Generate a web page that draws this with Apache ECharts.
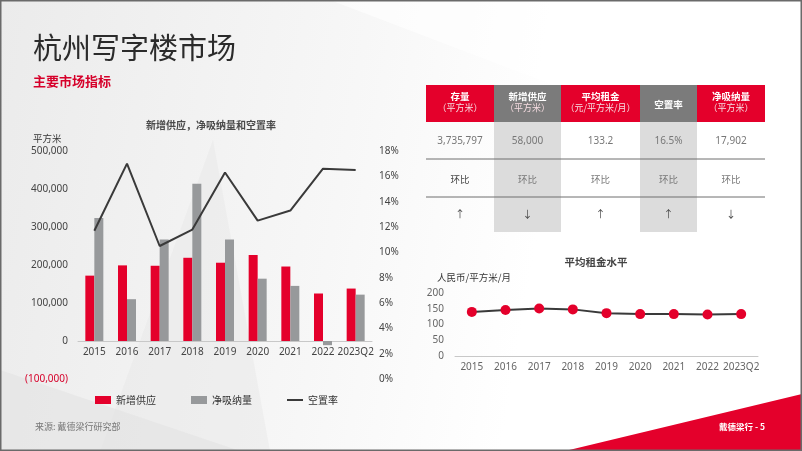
<!DOCTYPE html>
<html>
<head>
<meta charset="utf-8">
<script src="https://cdn.jsdelivr.net/npm/echarts@6/dist/echarts.min.js"></script>
<style>
  html, body { margin: 0; padding: 0; background: #fff; }
  #main { width: 802px; height: 451px; }
</style>
</head>
<body>
<div id="main"></div>
<script>
// 年份
const years = ['2015', '2016', '2017', '2018', '2019', '2020', '2021', '2022', '2023Q2']
// 平方米
const newSupply = [172000, 199000, 198000, 219000, 206000, 226000, 196000, 125000, 138000]
const netAbsorption = [324000, 110000, 267000, 414000, 267000, 164000, 145000, -11000, 122000]
// 空置率 %
const vacancyRate = [11.7, 17.0, 10.5, 11.8, 16.3, 12.5, 13.3, 16.6, 16.5]
// 平均租金 人民币/平方米/月
const rent = [140, 146, 151, 148, 136, 133, 133, 132, 133]

// 主要市场指标表
const tableHeaders = ['存量', '新增供应', '平均租金', '空置率', '净吸纳量']
const tableUnits = ['（平方米）', '（平方米）', '（元/平方米/月）', '', '（平方米）']
const tableValues = ['3,735,797', '58,000', '133.2', '16.5%', '17,902']
const tableCompare = ['环比', '环比', '环比', '环比', '环比']
const tableArrows = ['↑', '↓', '↑', '↑', '↓']

const RED = '#e4002b'
const GRAY_BAR = '#97999b'
const LINE = '#3a3a3a'
const FONT = '"Noto Sans", "Noto Sans CJK SC", sans-serif'
const CJK = '"Noto Sans CJK SC", sans-serif'

function fmtThousands(v) {
  return String(Math.abs(v)).replace(/\B(?=(\d{3})+(?!\d))/g, ',')
}

// table layout
const colX = [426, 494, 561, 640, 697, 765]
const colFill = [RED, '#7b7b7b', RED, '#7b7b7b', RED]
const tableGraphic = []
tableHeaders.forEach((name, i) => {
  const x = colX[i]
  const w = colX[i + 1] - colX[i]
  const cx = x + w / 2
  tableGraphic.push({ type: 'rect', shape: { x: x, y: 85, width: w, height: 37 }, style: { fill: colFill[i] } })
  if (i % 2 === 1) {
    tableGraphic.push({ type: 'rect', shape: { x: x, y: 122, width: w, height: 110 }, style: { fill: '#dcdcdc' } })
  }
  if (tableUnits[i]) {
    tableGraphic.push({ type: 'text', x: cx, y: 96.5, style: { text: name, fill: '#fff', font: 'bold 9.5px ' + CJK, align: 'center', verticalAlign: 'middle' } })
    tableGraphic.push({ type: 'text', x: cx, y: 107.5, style: { text: tableUnits[i], fill: '#f6dde2', font: '9px ' + CJK, align: 'center', verticalAlign: 'middle' } })
  } else {
    tableGraphic.push({ type: 'text', x: cx, y: 104, style: { text: name, fill: '#fff', font: 'bold 9.5px ' + CJK, align: 'center', verticalAlign: 'middle' } })
  }
  tableGraphic.push({ type: 'text', x: cx, y: 141, style: { text: tableValues[i], fill: '#777', font: '10px ' + FONT, align: 'center', verticalAlign: 'middle' } })
  tableGraphic.push({ type: 'text', x: cx, y: 179, style: { text: tableCompare[i], fill: i === 0 ? '#444' : '#777', font: '9.5px ' + CJK, align: 'center', verticalAlign: 'middle' } })
  tableGraphic.push({ type: 'text', x: cx, y: 215, style: { text: tableArrows[i], fill: '#444', font: '10px ' + FONT, align: 'center', verticalAlign: 'middle' } })
})
tableGraphic.push({ type: 'line', shape: { x1: 426, y1: 159, x2: 765, y2: 159 }, style: { stroke: '#6e6e6e', lineWidth: 1 } })
tableGraphic.push({ type: 'line', shape: { x1: 426, y1: 197, x2: 765, y2: 197 }, style: { stroke: '#6e6e6e', lineWidth: 1 } })

const chart = echarts.init(document.getElementById('main'))

const option = {
  animation: false,
  textStyle: { fontFamily: FONT },
  graphic: [
    // 背景
    {
      type: 'rect', z: -10, silent: true,
      shape: { x: 0, y: 0, width: 802, height: 451 },
      style: {
        fill: new echarts.graphic.LinearGradient(0, 0, 1, 0.3, [
          { offset: 0, color: '#ebebeb' },
          { offset: 0.45, color: '#f7f7f7' },
          { offset: 0.7, color: '#ffffff' }
        ])
      }
    },
    { type: 'polygon', z: -9, silent: true, shape: { points: [[213, 140], [100, 451], [270, 451]] }, style: { fill: '#e6e6e6', opacity: 0.45 } },
    { type: 'polygon', z: -9, silent: true, shape: { points: [[0, 370], [240, 451], [0, 451]] }, style: { fill: '#e2e2e2', opacity: 0.6 } },
    { type: 'polygon', z: -9, silent: true, shape: { points: [[330, 0], [802, 0], [802, 180]] }, style: { fill: '#ffffff', opacity: 0.6 } },
    // 标题
    { type: 'text', left: 33, top: 33, style: { text: '杭州写字楼市场', fill: '#2b2b2b', font: '29px ' + CJK } },
    { type: 'text', left: 33, top: 75, style: { text: '主要市场指标', fill: '#d6002a', font: 'bold 13px ' + CJK } },
    { type: 'text', x: 211, y: 125, style: { text: '新增供应，净吸纳量和空置率', fill: '#4a4a4a', font: 'bold 10px ' + CJK, align: 'center', verticalAlign: 'middle' } },
    { type: 'text', x: 33, y: 138, style: { text: '平方米', fill: '#333', font: '9.5px ' + CJK, verticalAlign: 'middle' } },
    { type: 'text', x: 596, y: 262, style: { text: '平均租金水平', fill: '#444', font: 'bold 10.5px ' + CJK, align: 'center', verticalAlign: 'middle' } },
    { type: 'text', x: 437, y: 277, style: { text: '人民币/平方米/月', fill: '#333', font: '9.5px ' + CJK, verticalAlign: 'middle' } },
    // 表格
    { type: 'group', children: tableGraphic },
    // 页脚
    { type: 'text', x: 35, y: 427, style: { text: '来源: 戴德梁行研究部', fill: '#777', font: '9px ' + CJK, verticalAlign: 'middle' } },
    { type: 'polygon', shape: { points: [[565, 451], [802, 394], [802, 451]] }, style: { fill: RED } },
    { type: 'text', x: 765, y: 427, style: { text: '戴德梁行 - 5', fill: '#fff', font: 'bold 8.5px ' + CJK, align: 'right', verticalAlign: 'middle' } },
    // 边框
    { type: 'rect', z: 100, silent: true, shape: { x: 0.5, y: 0.5, width: 801, height: 450 }, style: { fill: 'none', stroke: '#6a6a6a', lineWidth: 2 } }
  ],
  legend: {
    left: 90,
    top: 390,
    itemWidth: 16,
    itemHeight: 8,
    itemGap: 35,
    textStyle: { fontSize: 10, color: '#333', fontFamily: CJK },
    data: [
      { name: '新增供应', icon: 'rect' },
      { name: '净吸纳量', icon: 'rect' },
      { name: '空置率', icon: 'path://M0,0 L16,0 L16,2 L0,2 Z' }
    ]
  },
  grid: [
    { left: 78, right: 430, top: 151, bottom: 72 },
    { left: 455, right: 44, top: 293, bottom: 95 }
  ],
  xAxis: [
    {
      type: 'category',
      gridIndex: 0,
      data: years,
      axisLine: { onZero: true, onZeroAxisIndex: 0, lineStyle: { color: '#c8c8c8', width: 1 } },
      axisTick: { show: false },
      axisLabel: { color: '#444', fontSize: 10, margin: -32, interval: 0 }
    },
    {
      type: 'category',
      gridIndex: 1,
      data: years,
      axisLine: { lineStyle: { color: '#c8c8c8', width: 1 } },
      axisTick: { show: false },
      axisLabel: { color: '#666', fontSize: 10, margin: 6, interval: 0 }
    }
  ],
  yAxis: [
    {
      type: 'value',
      gridIndex: 0,
      min: -100000,
      max: 500000,
      interval: 100000,
      splitLine: { show: false },
      axisLine: { show: false },
      axisTick: { show: false },
      axisLabel: {
        margin: 10,
        fontSize: 10,
        color: '#444',
        formatter: v => v < 0 ? '{neg|(' + fmtThousands(v) + ')}' : fmtThousands(v),
        rich: { neg: { color: '#d6002a', fontSize: 10 } }
      }
    },
    {
      type: 'value',
      gridIndex: 0,
      position: 'right',
      min: 0,
      max: 18,
      interval: 2,
      splitLine: { show: false },
      axisLine: { show: false },
      axisTick: { show: false },
      axisLabel: { margin: 7, fontSize: 10, color: '#444', formatter: '{value}%' }
    },
    {
      type: 'value',
      gridIndex: 1,
      min: 0,
      max: 200,
      interval: 50,
      splitLine: { show: false },
      axisLine: { show: false },
      axisTick: { show: false },
      axisLabel: { margin: 11, fontSize: 10, color: '#666' }
    }
  ],
  series: [
    {
      name: '新增供应',
      type: 'bar',
      xAxisIndex: 0,
      yAxisIndex: 0,
      barWidth: 9,
      barGap: '0%',
      itemStyle: { color: RED },
      data: newSupply
    },
    {
      name: '净吸纳量',
      type: 'bar',
      xAxisIndex: 0,
      yAxisIndex: 0,
      barWidth: 9,
      barGap: '0%',
      itemStyle: { color: GRAY_BAR },
      data: netAbsorption
    },
    {
      name: '空置率',
      type: 'line',
      xAxisIndex: 0,
      yAxisIndex: 1,
      symbol: 'none',
      lineStyle: { color: LINE, width: 2 },
      itemStyle: { color: LINE },
      data: vacancyRate
    },
    {
      name: '平均租金',
      type: 'line',
      xAxisIndex: 1,
      yAxisIndex: 2,
      symbol: 'circle',
      symbolSize: 10,
      lineStyle: { color: LINE, width: 2 },
      itemStyle: { color: RED },
      data: rent
    }
  ]
}

chart.setOption(option)
</script>
</body>
</html>
